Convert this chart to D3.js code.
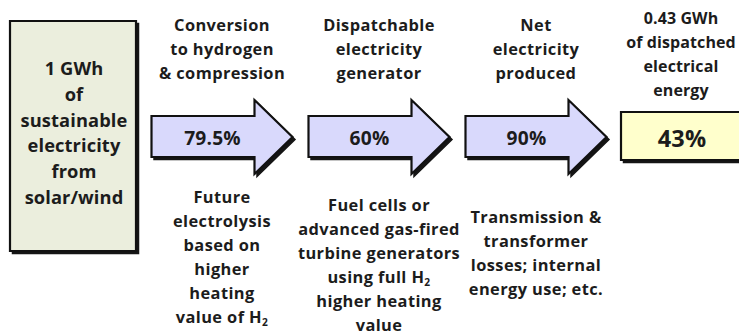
<!DOCTYPE html>
<html>
<head>
<meta charset="utf-8">
<script src="https://cdn.jsdelivr.net/npm/d3@7/dist/d3.min.js"></script>
<style>
  html, body { margin: 0; padding: 0; background: #fff; }
  svg { display: block; }
  text { font-family: "Open Sans", Lato, sans-serif; font-weight: bold; fill: #1c1c1c; }
</style>
</head>
<body>
<svg id="chart" width="739" height="335"></svg>
<script>
// Energy chain: stored renewable electricity -> hydrogen -> dispatched electricity
const sourceLines = ["1 GWh", "of", "sustainable", "electricity", "from", "solar/wind"];
const stageNames = ["conversion", "generator", "net"];
const stageHeaders = [
  ["Conversion", "to hydrogen", "& compression"],
  ["Dispatchable", "electricity", "generator"],
  ["Net", "electricity", "produced"]
];
const stageEfficiency = [79.5, 60, 90];
const stageNotes = [
  ["Future", "electrolysis", "based on", "higher", "heating", "value of H_2"],
  ["Fuel cells or", "advanced gas-fired", "turbine generators", "using full H_2", "higher heating", "value"],
  ["Transmission &", "transformer", "losses; internal", "energy use; etc."]
];
const resultLines = ["0.43 GWh", "of dispatched", "electrical", "energy"];
const resultEfficiency = 43;

// Layout
const svg = d3.select("#chart");

const arrowLen = 141, headLen = 38;
const bodyTop = 116, bodyBot = 157, headTop = 100, headBot = 174, tipY = 137;
const x = d3.scalePoint().domain(stageNames).range([222, 536]);
const noteTop = [203, 211, 223];

// Draws a text block line by line; "_2" becomes a subscript.
function textBlock(g, lines, cx, y0, step, size, spacing) {
  const t = g.append("text").attr("text-anchor", "middle")
    .style("font-size", size + "px")
    .style("letter-spacing", (spacing || 0) + "px");
  lines.forEach((ln, i) => {
    const parts = ln.split("_");
    const row = t.append("tspan").attr("x", cx).attr("y", y0 + i * step);
    row.text(parts[0]);
    if (parts.length > 1) {
      row.append("tspan").attr("dy", 3).style("font-size", (size * 0.62) + "px").text(parts[1]);
    }
  });
  return t;
}

function rectPath(x0, y0, w, h) {
  const q = d3.path();
  q.rect(x0, y0, w, h);
  return q.toString();
}

// Shape with a dark drop shadow toward the lower right
function withShadow(g, d, fill) {
  g.append("path").attr("d", d).attr("transform", "translate(2.5,2.5)")
    .attr("fill", "#151515").attr("stroke", "#151515").attr("stroke-width", 1.5);
  g.append("path").attr("d", d).attr("fill", fill).attr("stroke", "#111")
    .attr("stroke-width", 2.2).attr("stroke-linejoin", "miter");
}

// Source box
const src = svg.append("g");
withShadow(src, rectPath(10, 21, 126, 230), "#ebeedd");
textBlock(src, sourceLines, 74, 75, 25.8, 18.3, 0.1);

// Stage arrows
stageNames.forEach((name, i) => {
  const cx = x(name);
  const L = cx - arrowLen / 2, T = cx + arrowLen / 2, Hs = T - headLen;
  const g = svg.append("g");
  const shape = d3.line()([
    [L, bodyTop], [Hs, bodyTop], [Hs, headTop], [T, tipY], [Hs, headBot], [Hs, bodyBot], [L, bodyBot]
  ]) + "Z";
  withShadow(g, shape, "#d9d9fc");
  textBlock(g, [stageEfficiency[i] + "%"], (L + (Hs + T) / 2) / 2, 145, 0, 19.2, 0.2);
  textBlock(g, stageHeaders[i], cx, 30.5, 24.2, 16.4, 0.4);
  textBlock(g, stageNotes[i], cx, noteTop[i], 24, 16.4, 0.4);
});

// Result box
const res = svg.append("g");
withShadow(res, rectPath(621, 112, 124, 48), "#ffffcc");
textBlock(res, [resultEfficiency + "%"], 682, 147, 0, 23.5, 0.2);
textBlock(res, resultLines, 681, 24, 24, 16, 0.1);
</script>
</body>
</html>
